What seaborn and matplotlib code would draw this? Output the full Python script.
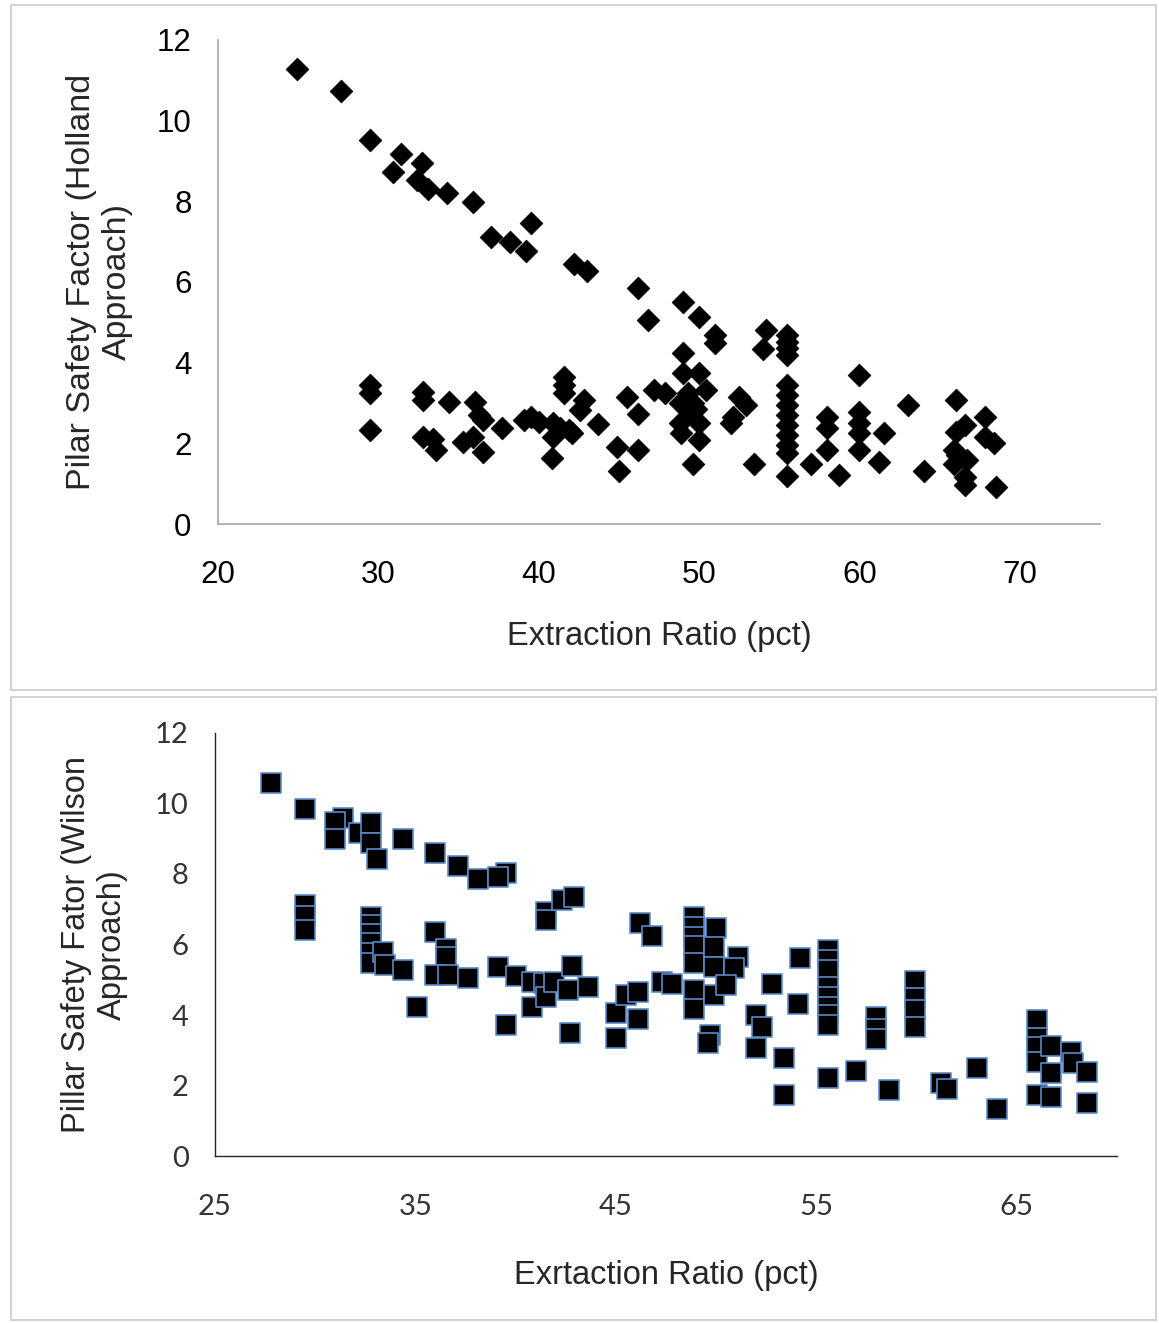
import matplotlib
matplotlib.use("Agg")
import matplotlib.pyplot as plt
from matplotlib.patches import Rectangle
import pandas as pd
import seaborn as sns

# Holland approach - extraction ratio (pct) vs pillar safety factor
holland_x = [24.9, 27.7, 29.5, 31.4, 30.9, 32.7, 32.4, 33.1, 34.3, 35.9, 37.0, 38.2, 39.2, 39.5,
             42.2, 43.0, 46.2, 46.8, 49.0, 50.0, 51.0, 51.0, 54.2, 54.0,
             55.5, 55.5, 55.5, 55.5,
             55.5, 55.5, 55.5, 55.5, 55.5, 55.5, 55.5, 55.5, 55.5,
             29.5, 29.5, 29.5, 32.8, 32.8, 32.8, 33.4, 33.6, 34.4, 35.3, 35.9, 36.0, 36.3,
             36.5, 36.5, 37.7, 39.1, 39.5, 40.0, 40.9, 41.3, 41.9, 40.9, 42.1, 40.8,
             41.6, 41.6, 41.6, 42.8, 42.6, 43.7, 45.5, 46.2, 44.9, 46.2, 45.0, 47.2, 47.9,
             49.0, 49.0, 50.0, 50.4, 48.8, 49.6, 48.8, 50.0, 50.0, 49.5, 49.6,
             49.3, 49.8, 48.9,
             52.5, 52.9, 52.1, 52.0, 53.4, 57.0, 58.0, 58.0, 58.0, 58.7,
             60.0, 60.0, 60.0, 60.0, 60.0, 61.5, 61.2, 63.0, 64.0,
             66.0, 66.6, 66.0, 65.9, 66.1, 66.7, 65.9, 66.6, 66.6, 67.8, 67.8, 68.4, 68.5]
holland_sf = [11.27, 10.74, 9.52, 9.17, 8.72, 8.94, 8.53, 8.30, 8.20, 7.98, 7.11, 6.99, 6.76, 7.46,
              6.45, 6.27, 5.86, 5.06, 5.51, 5.14, 4.69, 4.50, 4.81, 4.33,
              4.69, 4.52, 4.36, 4.19,
              3.45, 3.20, 2.95, 2.70, 2.45, 2.20, 1.95, 1.75, 1.19,
              3.45, 3.24, 2.33, 3.28, 3.07, 2.16, 2.12, 1.83, 3.03, 2.04, 2.16, 3.03, 2.70,
              2.58, 1.79, 2.37, 2.58, 2.66, 2.54, 2.50, 2.37, 2.33, 2.16, 2.25, 1.63,
              3.65, 3.45, 3.24, 3.07, 2.83, 2.48, 3.14, 2.74, 1.92, 1.83, 1.32, 3.32, 3.24,
              4.23, 3.74, 3.74, 3.32, 2.99, 2.99, 2.50, 2.50, 2.08, 2.74, 1.50,
              3.25, 2.85, 2.25,
              3.16, 2.95, 2.66, 2.50, 1.50, 1.50, 2.66, 2.37, 1.83, 1.21,
              3.69, 2.78, 2.50, 2.25, 1.83, 2.25, 1.55, 2.95, 1.31,
              3.07, 2.45, 2.29, 1.83, 1.71, 1.59, 1.50, 1.17, 0.97, 2.66, 2.16, 2.00, 0.92]

# Wilson approach
wilson_x = [27.8, 29.5, 31.4, 31.0, 31.0, 32.2, 32.8, 32.8, 33.1, 34.4, 36.0, 37.1, 38.1, 39.5, 39.1,
            29.5, 29.5, 29.5, 32.8, 32.8, 32.8, 32.8, 32.8, 32.8,
            33.4, 33.5, 34.4, 35.1, 36.0, 36.5, 36.5, 36.0, 36.6, 37.6, 39.1, 39.5, 40.0,
            40.8, 40.8, 41.4, 41.5, 41.9, 42.6, 42.8, 42.7, 43.6, 41.5, 41.5, 42.3, 42.9,
            45.0, 45.0, 45.5, 46.1, 46.1, 47.3, 47.8, 46.2, 46.8,
            48.9, 48.9, 48.9, 48.9, 48.9, 48.9, 48.9,
            50.0, 49.9, 49.9, 49.9, 51.1, 50.9, 50.5, 49.7, 49.6, 52.8, 54.2, 54.1,
            52.0, 52.3, 52.0, 53.4, 53.4,
            55.6, 55.6, 55.6, 55.6, 55.6, 55.6, 55.6, 55.6, 55.6, 57.0, 58.6,
            58.0, 58.0, 58.0, 59.9, 59.9, 59.9, 59.9, 61.2, 61.5, 63.0, 64.0,
            66.0, 66.0, 66.0, 66.0, 66.0, 66.7, 66.7, 66.7, 67.7, 67.8, 68.5, 68.5]
wilson_sf = [10.57, 9.84, 9.58, 9.48, 8.98, 9.15, 9.44, 8.87, 8.42, 8.99, 8.59, 8.23, 7.85, 8.04, 7.91,
             7.12, 6.80, 6.41, 6.79, 6.55, 6.30, 6.05, 5.75, 5.47,
             5.80, 5.42, 5.28, 4.24, 6.36, 5.86, 5.65, 5.13, 5.13, 5.04, 5.37, 3.72, 5.11,
             4.94, 4.24, 4.90, 4.52, 4.93, 4.71, 5.39, 3.50, 4.80, 6.93, 6.70, 7.26, 7.36,
             3.34, 4.05, 4.57, 4.66, 3.88, 4.94, 4.88, 6.62, 6.24,
             6.79, 6.50, 6.22, 5.95, 5.47, 4.71, 4.16,
             6.46, 5.94, 5.37, 4.57, 5.64, 5.32, 4.85, 3.43, 3.20, 4.88, 5.63, 4.31,
             4.00, 3.65, 3.06, 2.77, 1.73,
             5.84, 5.55, 5.28, 4.80, 4.50, 4.24, 4.00, 3.72, 2.20, 2.42, 1.87,
             3.95, 3.60, 3.31, 4.96, 4.47, 4.14, 3.65, 2.08, 1.89, 2.49, 1.32,
             3.86, 3.34, 3.10, 2.68, 1.73, 3.12, 2.35, 1.68, 2.96, 2.63, 2.39, 1.51]

holland_ticks_x = [20, 30, 40, 50, 60, 70]
wilson_ticks_x = [25, 35, 45, 55, 65]
sf_ticks = [0, 2, 4, 6, 8, 10, 12]

holland = pd.DataFrame({"er": holland_x, "sf": holland_sf})
wilson = pd.DataFrame({"er": wilson_x, "sf": wilson_sf})

sns.set_style("white")
plt.rcParams["font.family"] = ["Liberation Sans", "DejaVu Sans"]

fig = plt.figure(figsize=(11.59, 13.23), dpi=100)

# panel borders
fig.add_artist(Rectangle((0.0095, 0.4785), 0.988, 0.5178, transform=fig.transFigure,
                         fill=False, ec="#d4d4d4", lw=1.5))
fig.add_artist(Rectangle((0.0095, 0.0023), 0.988, 0.4709, transform=fig.transFigure,
                         fill=False, ec="#d4d4d4", lw=1.5))

# top chart
ax1 = fig.add_axes([0.1881, 0.6039, 0.7610, 0.3659])
sns.scatterplot(data=holland, x="er", y="sf", marker="D", s=135, color="black",
                edgecolor="black", linewidth=0.5, ax=ax1)
ax1.set_xlim(20, 75)
ax1.set_ylim(0, 12)
ax1.set_xticks(holland_ticks_x)
ax1.set_yticks(sf_ticks)
for side in ["top", "right"]:
    ax1.spines[side].set_visible(False)
for side in ["left", "bottom"]:
    ax1.spines[side].set_color("#a6a6a6")
    ax1.spines[side].set_linewidth(1.2)
ax1.tick_params(axis="both", direction="out", length=7, width=1.2, color="#a6a6a6",
                labelsize=22.5, labelcolor="black")
ax1.tick_params(axis="x", pad=19)
ax1.tick_params(axis="y", pad=12)
ax1.set_xlabel("Extraction Ratio (pct)", fontsize=23.5)
ax1.set_ylabel("Pilar Safety Factor (Holland\nApproach)", fontsize=24.5, linespacing=1.2)
ax1.xaxis.set_label_coords(0.5, -0.20)
ax1.yaxis.set_label_coords(-0.097, 0.5)

# bottom chart
ax2 = fig.add_axes([0.1855, 0.1262, 0.7783, 0.3198])
sns.scatterplot(data=wilson, x="er", y="sf", marker="s", s=200, color="black",
                edgecolor="#5b8ac6", linewidth=1.2, ax=ax2)
ax2.set_xlim(25, 70)
ax2.set_ylim(0, 12)
ax2.set_xticks(wilson_ticks_x)
ax2.set_yticks(sf_ticks)
for side in ["top", "right"]:
    ax2.spines[side].set_visible(False)
for side in ["left", "bottom"]:
    ax2.spines[side].set_color("#262626")
    ax2.spines[side].set_linewidth(1.0)
ax2.tick_params(axis="both", direction="out", length=7, width=1.0, color="#262626",
                labelsize=21, labelcolor="#333333")
for lab in ax2.get_xticklabels() + ax2.get_yticklabels():
    lab.set_family(["Lato", "DejaVu Sans"])
ax2.tick_params(axis="x", pad=20)
ax2.tick_params(axis="y", pad=12)
ax2.set_xlabel("Exrtaction Ratio (pct)", fontsize=23.5)
ax2.set_ylabel("Pillar Safety Fator (Wilson\nApproach)", fontsize=23.5, linespacing=1.2)
ax2.xaxis.set_label_coords(0.5, -0.245)
ax2.yaxis.set_label_coords(-0.097, 0.5)

fig.savefig("out.png", dpi=100)
